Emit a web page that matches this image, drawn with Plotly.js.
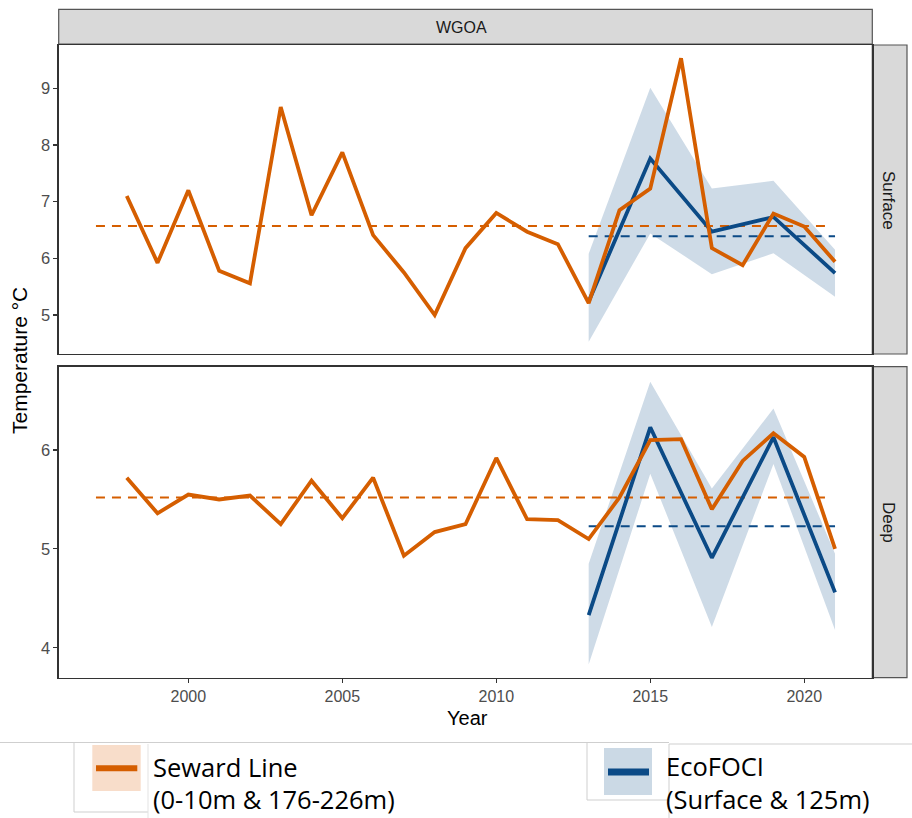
<!DOCTYPE html>
<html>
<head>
<meta charset="utf-8">
<script src="https://cdn.plot.ly/plotly-3.0.1.min.js"></script>
<style>html,body{margin:0;padding:0;background:#fff;}#chart{width:912px;height:818px;}</style>
</head>
<body>
<div id="chart"></div>
<script>
// ---------------- DATA ----------------
const years = [1998,1999,2000,2001,2002,2003,2004,2005,2006,2007,2008,2009,2010,2011,2012,2013,2014,2015,2016,2017,2018,2019,2020,2021];
const sewardSurface = [7.10,5.92,7.20,5.78,5.56,8.67,6.76,7.87,6.41,5.75,5.00,6.18,6.80,6.47,6.25,5.21,6.85,7.23,9.53,6.18,5.88,6.79,6.56,5.94];
const sewardDeep = [5.72,5.36,5.55,5.50,5.54,5.25,5.69,5.31,5.72,4.93,5.17,5.25,5.92,5.30,5.29,5.10,5.52,6.10,6.11,5.40,5.89,6.17,5.93,5.00];

const ecoYears = [2013,2015,2017,2019,2021];
const ecoSurface = [5.24,7.76,6.47,6.73,5.74];
const ecoSurfaceLo = [4.53,6.44,5.72,6.09,5.32];
const ecoSurfaceHi = [6.08,9.01,7.23,7.37,6.15];
const ecoDeep = [4.33,6.23,4.91,6.13,4.56];
const ecoDeepLo = [3.83,5.76,4.21,5.86,4.18];
const ecoDeepHi = [4.85,6.69,5.61,6.42,4.95];

const sewardMeanYears = [1997,2020.8];
const ecoMeanYears = [2013,2021];
const sewardSurfaceMean = 6.57;
const ecoSurfaceMean = 6.39;
const sewardDeepMean = 5.52;
const ecoDeepMean = 5.23;

const panelNames = ["Surface","Deep"];
const regionName = "WGOA";
const xTicks = [2000,2005,2010,2015,2020];
const yTicksSurface = [5,6,7,8,9];
const yTicksDeep = [4,5,6];
const legendLabels = [["Seward Line","(0-10m & 176-226m)"],["EcoFOCI","(Surface & 125m)"]];

// ---------------- STYLE ----------------
const ORANGE = '#D55E00';
const BLUE = '#0B4A86';
const RIBBON = 'rgba(11,74,134,0.2)';
const W = 912, H = 818;
const px = x => x / W;
const py = y => 1 - y / H;

function mean(v, n){ return Array(n).fill(v); }

function panelTraces(xa, ya, sew, eLo, eHi, eMid, sMean, eMean){
  return [
    {x: ecoYears, y: eLo, xaxis: xa, yaxis: ya, type:'scatter', mode:'lines', line:{width:0, color:RIBBON}, hoverinfo:'skip', showlegend:false},
    {x: ecoYears, y: eHi, xaxis: xa, yaxis: ya, type:'scatter', mode:'lines', fill:'tonexty', fillcolor:RIBBON, line:{width:0, color:RIBBON}, hoverinfo:'skip', showlegend:false},
    {x: sewardMeanYears, y: mean(sMean, sewardMeanYears.length), xaxis: xa, yaxis: ya, type:'scatter', mode:'lines', line:{color:ORANGE, width:2, dash:'9px,7px'}, showlegend:false},
    {x: ecoMeanYears, y: mean(eMean, ecoMeanYears.length), xaxis: xa, yaxis: ya, type:'scatter', mode:'lines', line:{color:BLUE, width:2, dash:'9px,7px'}, showlegend:false},
    {x: ecoYears, y: eMid, xaxis: xa, yaxis: ya, type:'scatter', mode:'lines', line:{color:BLUE, width:3.8}, showlegend:false},
    {x: years, y: sew, xaxis: xa, yaxis: ya, type:'scatter', mode:'lines', line:{color:ORANGE, width:3.8}, showlegend:false}
  ];
}

const data = [].concat(
  panelTraces('x','y', sewardSurface, ecoSurfaceLo, ecoSurfaceHi, ecoSurface, sewardSurfaceMean, ecoSurfaceMean),
  panelTraces('x2','y2', sewardDeep, ecoDeepLo, ecoDeepHi, ecoDeep, sewardDeepMean, ecoDeepMean)
);

const xDom = [px(58.7), px(872.3)];
const tickFont = {family:'Liberation Sans, Arial, sans-serif', size:16, color:'#4D4D4D'};
const axisCommon = {showgrid:false, zeroline:false, showline:true, mirror:true, linecolor:'#333333', linewidth:1.3,
  ticks:'outside', ticklen:4, tickwidth:1.1, tickcolor:'#333333', tickfont:tickFont};

const legendFont = {family:'Open Sans, sans-serif', size:25.5, color:'#000000'};

const layout = {
  width: W, height: H,
  margin:{l:0,r:0,t:0,b:0},
  paper_bgcolor:'#ffffff', plot_bgcolor:'#ffffff',
  showlegend:false,
  xaxis: Object.assign({}, axisCommon, {domain:xDom, range:[1995.79,2022.21], anchor:'y', tickvals:xTicks, showticklabels:false, ticks:''}),
  yaxis: Object.assign({}, axisCommon, {domain:[py(354), py(45)], range:[4.312,9.764], anchor:'x', tickvals:yTicksSurface, tickfont:Object.assign({}, tickFont, {size:16.5})}),
  xaxis2: Object.assign({}, axisCommon, {domain:xDom, range:[1995.79,2022.21], anchor:'y2', tickvals:xTicks, matches:'x'}),
  yaxis2: Object.assign({}, axisCommon, {domain:[py(677.7), py(366.7)], range:[3.697,6.843], anchor:'x2', tickvals:yTicksDeep, tickfont:Object.assign({}, tickFont, {size:16.5})}),
  shapes: [
    // strips
    {type:'rect', xref:'paper', yref:'paper', x0:px(58.7), x1:px(872.3), y0:py(44), y1:py(9.3), fillcolor:'#D9D9D9', line:{color:'#555555', width:1.2}, layer:'below'},
    {type:'rect', xref:'paper', yref:'paper', x0:px(872.3), x1:px(907), y0:py(354), y1:py(45), fillcolor:'#D9D9D9', line:{color:'#555555', width:1.2}, layer:'below'},
    {type:'rect', xref:'paper', yref:'paper', x0:px(872.3), x1:px(907), y0:py(677.7), y1:py(366.7), fillcolor:'#D9D9D9', line:{color:'#555555', width:1.2}, layer:'below'},
    // legend frame lines
    {type:'line', xref:'paper', yref:'paper', x0:0, x1:px(669), y0:py(742.5), y1:py(742.5), line:{color:'#CFCFCF', width:1}},
    {type:'line', xref:'paper', yref:'paper', x0:px(669), x1:1, y0:py(744), y1:py(744), line:{color:'#CFCFCF', width:1}},
    {type:'line', xref:'paper', yref:'paper', x0:px(74), x1:px(74), y0:py(742.5), y1:py(812), line:{color:'#CFCFCF', width:1}},
    {type:'line', xref:'paper', yref:'paper', x0:px(74), x1:px(148), y0:py(812), y1:py(812), line:{color:'#CFCFCF', width:1}},
    {type:'line', xref:'paper', yref:'paper', x0:px(148), x1:px(148), y0:py(744), y1:py(818), line:{color:'#E3E3E3', width:1}},
    {type:'line', xref:'paper', yref:'paper', x0:px(587), x1:px(587), y0:py(742.5), y1:py(800), line:{color:'#CFCFCF', width:1}},
    {type:'line', xref:'paper', yref:'paper', x0:px(587), x1:px(669), y0:py(800), y1:py(800), line:{color:'#CFCFCF', width:1}},
    {type:'line', xref:'paper', yref:'paper', x0:px(669), x1:px(669), y0:py(744), y1:py(818), line:{color:'#CFCFCF', width:1}},
    // legend keys
    {type:'rect', xref:'paper', yref:'paper', x0:px(92.3), x1:px(140.7), y0:py(791), y1:py(745), fillcolor:'#F8DDCA', line:{width:0}},
    {type:'line', xref:'paper', yref:'paper', x0:px(96), x1:px(137.3), y0:py(768.3), y1:py(768.3), line:{color:ORANGE, width:6}},
    {type:'rect', xref:'paper', yref:'paper', x0:px(604), x1:px(652), y0:py(795), y1:py(748), fillcolor:'#CBD9E5', line:{width:0}},
    {type:'line', xref:'paper', yref:'paper', x0:px(608), x1:px(649), y0:py(772), y1:py(772), line:{color:BLUE, width:7}}
  ],
  annotations: [
    {text:regionName, xref:'paper', yref:'paper', x:px(461), y:py(27), xanchor:'center', yanchor:'middle', showarrow:false, font:{family:'Liberation Sans, Arial, sans-serif', size:16, color:'#1A1A1A'}},
    {text:panelNames[0], xref:'paper', yref:'paper', x:px(889), y:py(200), xanchor:'center', yanchor:'middle', textangle:90, showarrow:false, font:{family:'Liberation Sans, Arial, sans-serif', size:17, color:'#1A1A1A'}},
    {text:panelNames[1], xref:'paper', yref:'paper', x:px(889), y:py(522), xanchor:'center', yanchor:'middle', textangle:90, showarrow:false, font:{family:'Liberation Sans, Arial, sans-serif', size:17, color:'#1A1A1A'}},
    {text:'Temperature °C', xref:'paper', yref:'paper', x:px(20), y:py(361), xanchor:'center', yanchor:'middle', textangle:-90, showarrow:false, font:{family:'Liberation Sans, Arial, sans-serif', size:21, color:'#000000'}},
    {text:'Year', xref:'paper', yref:'paper', x:px(467), y:py(718), xanchor:'center', yanchor:'middle', showarrow:false, font:{family:'Liberation Sans, Arial, sans-serif', size:20, color:'#000000'}},
    {text:legendLabels[0][0], xref:'paper', yref:'paper', x:px(151), y:py(767), xanchor:'left', yanchor:'middle', showarrow:false, font:legendFont},
    {text:legendLabels[0][1], xref:'paper', yref:'paper', x:px(151), y:py(799), xanchor:'left', yanchor:'middle', showarrow:false, font:legendFont},
    {text:legendLabels[1][0], xref:'paper', yref:'paper', x:px(664), y:py(766), xanchor:'left', yanchor:'middle', showarrow:false, font:legendFont},
    {text:legendLabels[1][1], xref:'paper', yref:'paper', x:px(664), y:py(799), xanchor:'left', yanchor:'middle', showarrow:false, font:legendFont}
  ]
};

Plotly.newPlot('chart', data, layout, {displayModeBar:false, staticPlot:true});
</script>
</body>
</html>
